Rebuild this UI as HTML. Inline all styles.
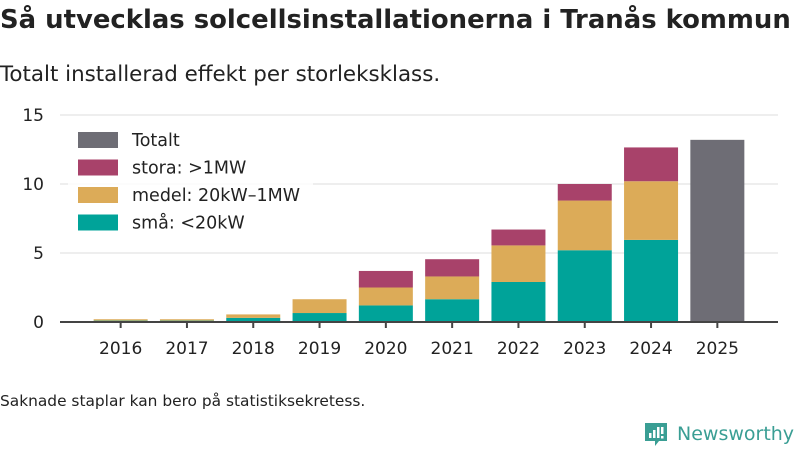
<!DOCTYPE html>
<html><head><meta charset="utf-8"><style>
body{margin:0;width:800px;height:450px;background:#fff;font-family:"Liberation Sans","DejaVu Sans",sans-serif;overflow:hidden}
</style></head><body>
<svg width="800" height="450" style="font-family:'DejaVu Sans','Liberation Sans',sans-serif">
<text x="0" y="28" font-size="25.9" font-weight="bold" fill="#222">Så utvecklas solcellsinstallationerna i Tranås kommun</text>
<text x="0" y="81" font-size="21.4" fill="#222">Totalt installerad effekt per storleksklass.</text>
<g id="grid"></g><g id="bars"></g><g id="axis"></g>
<g id="legend"></g>
<text x="0" y="406" font-size="15.4" fill="#222">Saknade staplar kan bero på statistiksekretess.</text>
<g>
<path d="M645 423h22v18h-8l-4 5v-5h-10z" fill="#3a9e94"/>
<rect x="649" y="433" width="2.5" height="5" fill="#fff"/><rect x="653" y="430" width="2.5" height="8" fill="#fff"/><rect x="657" y="427" width="2.5" height="11" fill="#fff"/><rect x="661" y="427" width="2.5" height="7" fill="#fff"/><rect x="661" y="436" width="2.5" height="2.5" fill="#fff"/>
<text x="677" y="440" font-size="19" fill="#3a9e94">Newsworthy</text>
</g>
</svg>
<script>
const years=["2016","2017","2018","2019","2020","2021","2022","2023","2024","2025"];
const sma=[0.1,0.1,0.3,0.65,1.2,1.65,2.9,5.2,5.95,null];
const medel=[0.1,0.1,0.25,1.0,1.3,1.65,2.65,3.6,4.25,null];
const stora=[0,0,0,0,1.2,1.25,1.15,1.2,2.45,null];
const totalt=[null,null,null,null,null,null,null,null,null,13.2];
const yTicks=[0,5,10,15];
const colors={sma:"#00a399",medel:"#dcab58",stora:"#a8426a",tot:"#6e6d75"};
const NS="http://www.w3.org/2000/svg";
const y=v=>322-v*13.8;
const x0=87.5,bw=66.3;
const xc=i=>x0+bw*i+bw/2;
function mk(p,t,a){const e=document.createElementNS(NS,t);for(const k in a)e.setAttribute(k,a[k]);document.getElementById(p).appendChild(e);return e;}
yTicks.forEach(t=>{
 if(t>0){const l=mk("grid","line",{x1:60,x2:778,y1:y(t),y2:y(t),stroke:"#ddd","stroke-width":1});
 
 }
 const tx=mk("grid","text",{x:44,y:y(t)+6,"font-size":17,fill:"#222","text-anchor":"end"});tx.textContent=t;
 
 
});
years.forEach((yr,i)=>{
 let base=0;const cx=xc(i);
 [[sma,colors.sma,'bar-sma'],[medel,colors.medel,'bar-medel'],[stora,colors.stora,'bar-stora'],[totalt,colors.tot,'bar-totalt']].forEach(([arr,c,n])=>{
  const v=arr[i];if(!v)return;
  const r=mk("bars","rect",{x:cx-27,width:54,y:y(base+v),height:y(base)-y(base+v),fill:c});
  
  
  base+=v;
 });
 const tk=mk("axis","line",{x1:cx,x2:cx,y1:322,y2:328,stroke:"#444","stroke-width":2});
 
 
 const t=mk("axis","text",{x:cx,y:354,"font-size":17,fill:"#222","text-anchor":"middle"});t.textContent=yr;
 
 
});
const ax=mk("axis","line",{x1:60,x2:778,y1:322,y2:322,stroke:"#444","stroke-width":2});


const leg=[["Totalt",colors.tot],["stora: >1MW",colors.stora],["medel: 20kW–1MW",colors.medel],["små: <20kW",colors.sma]];
const lb=mk("legend","rect",{x:68,y:126,width:245,height:112,fill:"#fff","fill-opacity":0.85});


leg.forEach(([l,c],i)=>{
 const yy=140+i*27.5;
 const r=mk("legend","rect",{x:78,y:yy-8,width:40,height:16,fill:c});
 
 
 const t=mk("legend","text",{x:132,y:yy+6,"font-size":17.5,fill:"#222"});t.textContent=l;
 
 
});
</script>
</body></html>
